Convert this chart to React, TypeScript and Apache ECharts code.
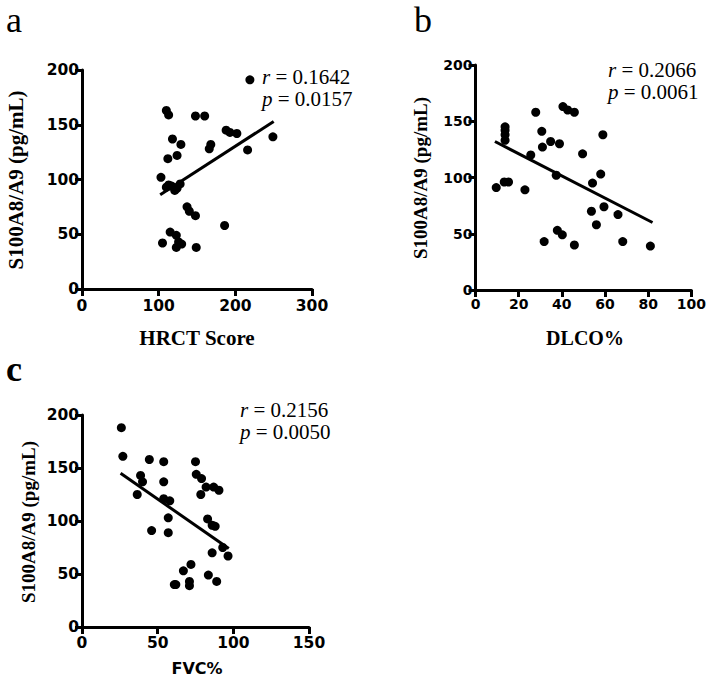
import React, { useEffect, useRef } from "react";
import * as echarts from "echarts";

// Panel a: HRCT Score vs S100A8/A9
const hrctX = [219, 110, 113, 148, 160, 188, 193, 202, 249, 118, 129, 168, 166, 216, 124, 112, 103, 113, 117, 124, 128, 121, 110, 137, 140, 148, 186, 115, 123, 105, 130, 123, 149, 126];
const hrctY = [191, 163, 159, 158, 158, 145, 143, 142, 139, 137, 132, 132, 128, 127, 122, 119, 102, 95, 94, 92, 96, 90, 93, 75, 71, 67, 58, 52, 49, 42, 41, 38, 38, 43];
const fitA = [[102, 86], [250, 153]];

// Panel b: DLCO% vs S100A8/A9
const dlcoX = [9.6, 13.7, 13.7, 13.7, 13.7, 13.3, 15.3, 22.9, 25.6, 27.9, 30.7, 31, 34.8, 38.9, 37.4, 31.8, 37.9, 40.2, 40.5, 42.7, 45.8, 45.8, 49.6, 54.2, 58, 59, 53.7, 59.5, 56, 66, 68.2, 81];
const dlcoY = [91, 145, 142, 138, 133, 96, 96, 89, 120, 158, 141, 127, 132, 130, 102, 43, 53, 49, 163, 160, 158, 40, 121, 95, 103, 138, 70, 74, 58, 67, 43, 39];
const fitB = [[9, 132], [82, 60]];

// Panel c: FVC% vs S100A8/A9
const fvcX = [26, 27, 44.5, 54, 75, 38.7, 40, 36.5, 54, 54, 58, 57, 46, 57, 75.5, 79, 82, 87, 90.5, 78.5, 83, 86, 88, 93, 96.5, 86, 72, 67, 83.5, 89, 62, 71, 71, 61];
const fvcY = [188, 161, 158, 156, 156, 143, 137, 125, 137, 121, 119, 103, 91, 89, 144, 140, 132, 132, 129, 125, 102, 96, 95, 75, 67, 70, 59, 53, 49, 43, 40, 43, 39, 40];
const fitC = [[25.5, 145], [97, 74]];

const stats = [
  { label: "a", r: "0.1642", p: "0.0157" },
  { label: "b", r: "0.2066", p: "0.0061" },
  { label: "c", r: "0.2156", p: "0.0050" },
];
const xTitles = ["HRCT Score", "DLCO%", "FVC%"];
const yTitle = "S100A8/A9 (pg/mL)";
const xMax = [300, 100, 150];
const xInterval = [100, 20, 50];
const yMax = 200;
const yInterval = 50;

const SANS = "DejaVu Sans";
const SERIF = "Liberation Serif";

export default function App() {
  const ref = useRef<HTMLDivElement>(null);
  useEffect(() => {
    if (!ref.current) return;
    const chart = echarts.init(ref.current, undefined, { renderer: "svg" });

    const grids = [
      { left: 82, top: 70, width: 230, height: 219 },
      { left: 475.5, top: 65, width: 219, height: 225 },
      { left: 82, top: 415, width: 227, height: 212 },
    ];
    const tickFont = [15.5, 14, 15.5];
    const xLabelMargin = [9, 7, 8];

    const axisCommon = (i: number, margin: number) => ({
      axisLine: { show: true, onZero: false, lineStyle: { color: "#000", width: 3 } },
      axisTick: { show: true, length: 7, lineStyle: { color: "#000", width: 3 } },
      splitLine: { show: false },
      axisLabel: {
        color: "#000",
        fontFamily: SANS,
        fontWeight: "bold",
        fontSize: tickFont[i],
        margin,
      },
    });

    const xAxis = [0, 1, 2].map((i) => ({
      type: "value",
      gridIndex: i,
      min: 0,
      max: xMax[i],
      interval: xInterval[i],
      ...axisCommon(i, xLabelMargin[i]),
    }));
    const yAxis = [0, 1, 2].map((i) => ({
      type: "value",
      gridIndex: i,
      min: 0,
      max: yMax,
      interval: yInterval,
      ...axisCommon(i, 3),
    }));

    const pairs = (xs: number[], ys: number[]) => xs.map((x, k) => [x, ys[k]]);
    const scatterData = [pairs(hrctX, hrctY), pairs(dlcoX, dlcoY), pairs(fvcX, fvcY)];
    const fits = [fitA, fitB, fitC];

    const series: any[] = [];
    [0, 1, 2].forEach((i) => {
      series.push({
        type: "scatter",
        xAxisIndex: i,
        yAxisIndex: i,
        data: scatterData[i],
        symbolSize: 9,
        itemStyle: { color: "#000", opacity: 1 },
        silent: true,
      });
      series.push({
        type: "line",
        xAxisIndex: i,
        yAxisIndex: i,
        data: fits[i],
        symbol: "none",
        lineStyle: { color: "#000", width: 3 },
        silent: true,
      });
    });

    const statPos = [
      { x: 262, y: 77 },
      { x: 608, y: 70 },
      { x: 240, y: 410 },
    ];
    const labelPos = [
      { x: 6, y: 20, weight: "normal" },
      { x: 414, y: 20, weight: "normal" },
      { x: 6, y: 369, weight: "bold" },
    ];
    const yTitlePos = [
      { x: 16, y: 180, size: 21 },
      { x: 420, y: 178, size: 19 },
      { x: 28, y: 522, size: 19 },
    ];
    const xTitlePos = [
      { x: 197, y: 338, size: 21, font: SERIF },
      { x: 585, y: 338, size: 20, font: SERIF },
      { x: 197, y: 668, size: 16, font: SANS },
    ];

    const graphic: any[] = [];
    [0, 1, 2].forEach((i) => {
      graphic.push({
        type: "text",
        x: labelPos[i].x,
        y: labelPos[i].y,
        style: {
          text: stats[i].label,
          font: `${labelPos[i].weight} 36px ${SERIF}`,
          fill: "#000",
          verticalAlign: "middle",
        },
      });
      graphic.push({
        type: "text",
        x: statPos[i].x,
        y: statPos[i].y,
        style: {
          text: `{i|r} = ${stats[i].r}`,
          font: `21px ${SERIF}`,
          fill: "#000",
          verticalAlign: "middle",
          rich: { i: { fontStyle: "italic", fontFamily: SERIF, fontSize: 21 } },
        },
      });
      graphic.push({
        type: "text",
        x: statPos[i].x,
        y: statPos[i].y + 22,
        style: {
          text: `{i|p} = ${stats[i].p}`,
          font: `21px ${SERIF}`,
          fill: "#000",
          verticalAlign: "middle",
          rich: { i: { fontStyle: "italic", fontFamily: SERIF, fontSize: 21 } },
        },
      });
      graphic.push({
        type: "text",
        x: yTitlePos[i].x,
        y: yTitlePos[i].y,
        rotation: Math.PI / 2,
        style: {
          text: yTitle,
          font: `bold ${yTitlePos[i].size}px ${SERIF}`,
          fill: "#000",
          align: "center",
          verticalAlign: "middle",
        },
      });
      graphic.push({
        type: "text",
        x: xTitlePos[i].x,
        y: xTitlePos[i].y,
        style: {
          text: xTitles[i],
          font: `bold ${xTitlePos[i].size}px ${xTitlePos[i].font}`,
          fill: "#000",
          align: "center",
          verticalAlign: "middle",
        },
      });
    });

    chart.setOption({
      animation: false,
      backgroundColor: "#fff",
      grid: grids,
      xAxis,
      yAxis,
      series,
      graphic,
    });
    return () => chart.dispose();
  }, []);

  return (
    <div
      ref={ref}
      style={{ position: "fixed", left: 0, top: 0, width: 709, height: 678 }}
    />
  );
}
